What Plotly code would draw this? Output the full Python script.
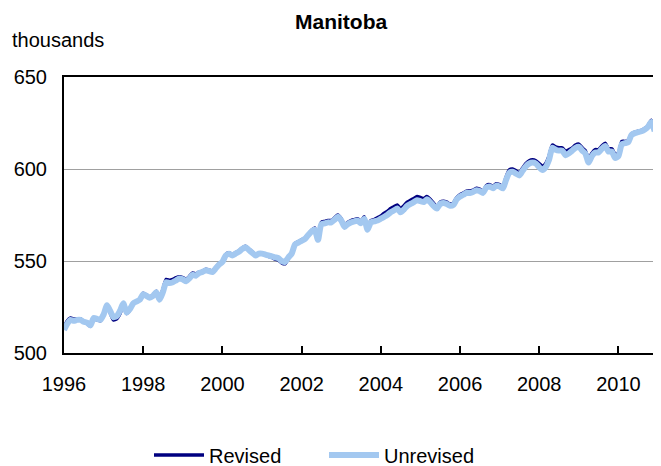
import plotly.graph_objects as go

# Monthly dates, Jan 1996 - Dec 2010
months = [f"{y}-{m:02d}-01" for y in range(1996, 2011) for m in range(1, 13)]

unrevised = [
    # 1996
    512.5, 516, 518, 517.5, 518, 518, 517, 516.5, 515, 519, 518.5, 518,
    # 1997
    521, 526, 523, 519.5, 520, 523, 527, 522, 524, 527, 528, 529,
    # 1998
    532, 531, 530, 531, 533, 529, 533, 538.5, 538, 538.5, 539.5, 540.5,
    # 1999
    540, 539, 540.5, 542.5, 542, 543.5, 544, 545, 544.5, 544, 546, 548,
    # 2000
    549.5, 553, 554, 553, 554, 555, 556.5, 557.5, 556, 554.5, 553, 554,
    # 2001
    554, 553.5, 553, 552.5, 552, 551.5, 550, 549.5, 552, 554, 559, 560,
    # 2002
    561, 562, 564, 566, 567, 561.5, 570, 570.5, 571, 571, 572.5, 574,
    # 2003
    572, 568.5, 570, 571, 571.5, 572, 570.5, 573, 567, 571, 571.5, 572,
    # 2004
    573, 574, 575, 576.5, 577.5, 578.5, 576.5, 578, 580, 581, 582, 583,
    # 2005
    582.5, 582, 583.5, 582, 580, 578.5, 581, 581.5, 581, 580, 580.5, 583.5,
    # 2006
    585, 586, 587, 587, 587.5, 588.5, 588, 587, 590, 590.5, 589.5, 591,
    # 2007
    590.5, 589.5, 594, 598, 598.5, 597.5, 596.5, 599, 601.5, 603, 603.5, 603,
    # 2008
    601, 599.5, 601, 605, 611.5, 610.5, 610, 610, 607.5, 608.5, 610, 611.5,
    # 2009
    612, 610, 608.5, 603.5, 607, 609, 609, 611, 612.5, 609.5, 609.5, 606,
    # 2010
    607, 613.5, 614, 614.5, 618.5, 619.5, 620, 620.5, 621.5, 623, 625.5, 620.5,
]

revised = [
    # 1996
    514, 517.5, 519, 518.5, 518.5, 518.5, 517, 516, 514.5, 518.5, 518, 517.5,
    # 1997
    520.5, 525.5, 522, 518, 518.5, 521.5, 526, 521.5, 523.5, 527, 528, 529.5,
    # 1998
    532.5, 531.5, 530.5, 531.5, 533.5, 530, 534.5, 540, 539.5, 540, 541, 541.5,
    # 1999
    541, 540, 541.5, 543.5, 543, 544, 544.5, 545.5, 545, 544.5, 546.5, 548.5,
    # 2000
    550, 553.5, 554.5, 553.5, 554.5, 555.5, 557, 558, 556.5, 555, 553.5, 554,
    # 2001
    554, 553.5, 552.5, 552, 551, 550.5, 549, 548.5, 551.5, 554, 559.5, 560.5,
    # 2002
    561.5, 562.5, 564.5, 566.5, 568, 562.5, 571, 571.5, 572, 572, 573.5, 575,
    # 2003
    573, 569.5, 571, 572, 572.5, 573, 571.5, 574, 568, 572, 572.5, 573.5,
    # 2004
    574.5, 576, 577, 578.5, 579.5, 580.5, 578.5, 580, 582, 583, 584, 585,
    # 2005
    584.5, 584, 585, 583.5, 581.5, 579.5, 582, 582.5, 582, 581, 581.5, 584.5,
    # 2006
    586, 587, 588, 588, 588.5, 589.5, 589, 588, 591, 591.5, 590.5, 592,
    # 2007
    591.5, 590.5, 595.5, 599.5, 600, 599, 598, 600.5, 603, 604.5, 605, 604.5,
    # 2008
    603, 601.5, 603, 607, 613, 612, 611.5, 611.5, 609.5, 610.5, 611.5, 613,
    # 2009
    613.5, 611.5, 610, 605.5, 608.5, 610.5, 610.5, 612.5, 614, 611, 611, 608,
    # 2010
    608.5, 615, 615, 615.5, 619, 620, 620.5, 621, 622, 623.5, 626.5, 621,
]

x_tick_vals = [f"{y}-01-01" for y in range(1996, 2012, 2)]
x_tick_text = [str(y) for y in range(1996, 2012, 2)]
y_tick_vals = [500, 550, 600, 650]

FONT = "Liberation Sans, Arial, sans-serif"

# The page body has an 8px margin, so the figure is drawn 8px right/down.
# Screen plot area: left 64, right 658, top 77, bottom 353.
PW, PH = 594, 276


def px_x(s):
    return (s - 64) / PW


def px_y(s):
    return (353 - s) / PH


fig = go.Figure()
fig.add_trace(go.Scatter(
    x=months, y=revised, name="Revised", mode="lines",
    line=dict(color="#000080", width=3.5, shape="spline", smoothing=0.6),
))
fig.add_trace(go.Scatter(
    x=months, y=unrevised, name="Unrevised", mode="lines",
    line=dict(color="#a3c8f0", width=6, shape="spline", smoothing=0.6),
))

fig.update_layout(
    width=653, height=458,
    margin=dict(l=56, r=3, t=69, b=113, autoexpand=False),
    paper_bgcolor="white", plot_bgcolor="white",
    font=dict(family=FONT, size=20, color="black"),
    showlegend=True,
    legend=dict(
        orientation="h", x=px_x(149), xanchor="left",
        y=px_y(455), yanchor="middle",
        font=dict(size=20), itemwidth=50,
        entrywidth=110, entrywidthmode="pixels",
        bgcolor="rgba(0,0,0,0)", traceorder="normal",
    ),
    annotations=[
        dict(text="<b>Manitoba</b>", x=px_x(341), y=px_y(21),
             xref="paper", yref="paper", xanchor="center", yanchor="middle",
             showarrow=False, font=dict(size=21)),
        dict(text="thousands", x=px_x(10), y=px_y(40),
             xref="paper", yref="paper", xanchor="left", yanchor="middle",
             showarrow=False, font=dict(size=20)),
    ],
)

fig.update_xaxes(
    type="date", range=["1996-01-01", "2011-01-01"],
    tickvals=x_tick_vals, ticktext=x_tick_text,
    ticks="inside", ticklen=7, tickwidth=2, tickcolor="black",
    showline=True, linecolor="black", linewidth=2, mirror=True,
    showgrid=False, zeroline=False, automargin=False,
    ticklabelstandoff=12,
)
fig.update_yaxes(
    range=[500, 650], tickvals=y_tick_vals,
    ticks="", showline=True, linecolor="black", linewidth=2, mirror=True,
    showgrid=True, gridcolor="#a0a0a0", gridwidth=1, zeroline=False,
    automargin=False, ticklabelstandoff=11,
)

fig.write_html("out.html")
